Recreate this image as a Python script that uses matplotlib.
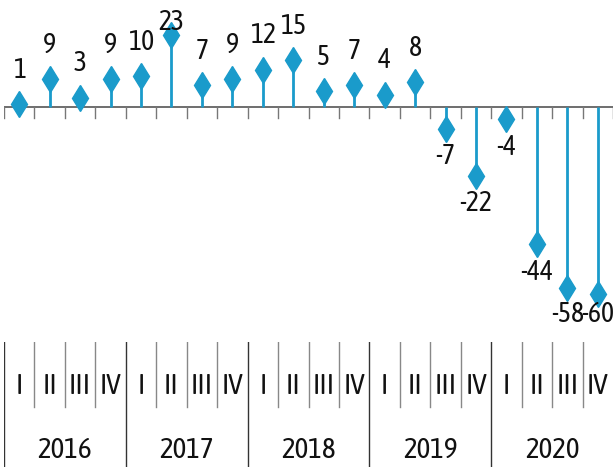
import matplotlib
matplotlib.use("Agg")
import matplotlib.pyplot as plt
from matplotlib import font_manager as fm
import numpy as np

# quarterly values 2016 Q1 .. 2020 Q4
years = ["2016", "2017", "2018", "2019", "2020"]
quarters = ["I", "II", "III", "IV"]
values = [1, 9, 3, 9, 10, 23, 7, 9, 12, 15, 5, 7, 4, 8, -7, -22, -4, -44, -58, -60]

blue = "#1a9bcb"


def pick_narrow_font():
    """Find a condensed regular font among the installed ones."""
    prefs = ["SansNarrow-Regular", "Condensed-Regular", "SansCondensed.ttf",
             "Condensed", "Narrow"]
    files = [f.fname for f in fm.fontManager.ttflist
             if f.style == "normal" and f.weight in (400, "normal", "regular")]
    files += [f for f in fm.findSystemFonts() if f not in files]
    for p in prefs:
        for fn in files:
            base = fn.split("/")[-1]
            if p in base and "Bold" not in base and "Italic" not in base \
                    and "Oblique" not in base and "Light" not in base:
                return fm.FontProperties(fname=fn)
    return fm.FontProperties(family="DejaVu Sans", stretch="condensed")


fp = pick_narrow_font()

W, H = 613, 467
fig = plt.figure(figsize=(W / 100, H / 100), dpi=100)

# main stem area
ax = fig.add_axes([4 / W, (H - 330) / H, 609 / W, 330 / H])
n = len(values)
x = np.arange(n)
ymax, ymin = 34.3, -71.5
ax.set_xlim(-0.5, n - 0.5)
ax.set_ylim(ymin, ymax)
ax.axis("off")

ax.axhline(0, color="#555555", lw=1.2, zorder=1)
for b in np.arange(n + 1) - 0.5:
    ax.plot([b, b], [0, -3.6], color="#777777", lw=1.0, zorder=1)

ax.vlines(x, 0, values, color=blue, lw=2.0, zorder=2)
ax.plot(x, values, linestyle="none", marker="d", markersize=13,
        color=blue, zorder=3)

for xi, v in zip(x, values):
    if v >= 0:
        ly = min(v + 10.8, 27.2)
    else:
        ly = max(v - 9.0, -66.5)
    ax.text(xi, ly, str(v), ha="center", va="center", fontproperties=fp,
            fontsize=20, color="#111111", zorder=4)

# category axis below
cax = fig.add_axes([4 / W, 0, 609 / W, 125 / H])
cax.set_xlim(-0.5, n - 0.5)
cax.set_ylim(0, 125)
cax.axis("off")

for i in range(n + 1):
    b = i - 0.5
    if i % 4 == 0:
        if i < n:
            cax.plot([b, b], [0, 125], color="#333333", lw=1.0)
    else:
        cax.plot([b, b], [60, 125], color="#888888", lw=1.0)

for i in range(n):
    cax.text(i, 81, quarters[i % 4], ha="center", va="center",
             fontproperties=fp, fontsize=21, color="#111111")

for k, yr in enumerate(years):
    cax.text(4 * k + 1.5, 16, yr, ha="center", va="center",
             fontproperties=fp, fontsize=21, color="#111111")

fig.savefig("out.png", dpi=100)
